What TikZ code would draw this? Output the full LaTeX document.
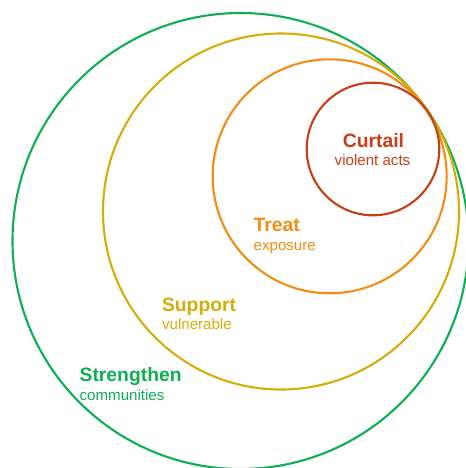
\documentclass[tikz,border=0pt]{standalone}
\usepackage{fontspec}
\setmainfont{Liberation Sans}
\usepackage{tikz}

\definecolor{ringred}{RGB}{200,62,22}
\definecolor{ringorange}{RGB}{242,140,18}
\definecolor{ringyellow}{RGB}{214,172,8}
\definecolor{ringgreen}{RGB}{12,176,82}

\begin{document}
\begin{tikzpicture}[x=0.02cm,y=0.02cm]
\tikzstyle{every node}+=[inner sep=0pt]
\tikzstyle{ring}=[line width=1.2pt]
\tikzstyle{title}=[font=\bfseries\fontsize{11}{13}\selectfont]
\tikzstyle{sub}=[font=\fontsize{8.6}{10}\selectfont]
\useasboundingbox (0,0) rectangle (466,-468);
\clip (0,0) rectangle (466,-468);
% rings, all touching at the upper right
\draw [ring, ringgreen] (240.5,-241) circle (228);
\draw [ring, ringyellow] (281,-211.5) circle (178);
\draw [ring, ringorange] (329.7,-176.3) circle (117);
\draw [ring, ringred] (373,-149) circle (66.3);
% labels
\node [title, ringred, anchor=base] (curtail) at (373.5,-147.3) {Curtail};
\node [sub, ringred, anchor=base] (curtailsub) at (372.5,-165) {violent acts};
\node [title, ringorange, anchor=base west] (treat) at (253.3,-231) {Treat};
\node [sub, ringorange, anchor=base west] (treatsub) at (253.3,-250) {exposure};
\node [title, ringyellow, anchor=base west] (support) at (161.7,-311) {Support};
\node [sub, ringyellow, anchor=base west] (supportsub) at (161.7,-329.3) {vulnerable};
\node [title, ringgreen, anchor=base west] (strengthen) at (79.3,-381) {Strengthen};
\node [sub, ringgreen, anchor=base west] (strengthensub) at (79.3,-400) {communities};
\end{tikzpicture}
\end{document}
